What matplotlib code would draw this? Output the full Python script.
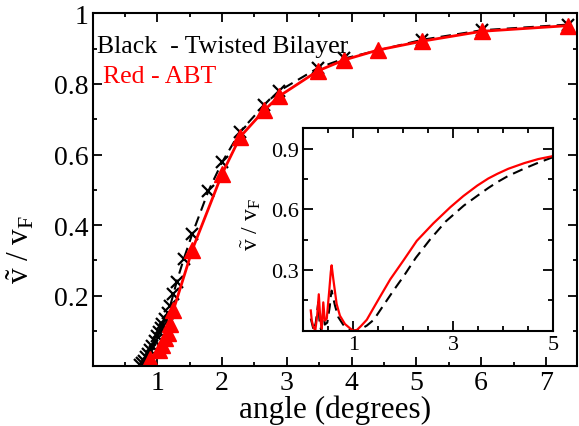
import numpy as np
import matplotlib
matplotlib.use("Agg")
import matplotlib.pyplot as plt
from matplotlib.ticker import MultipleLocator, FixedLocator

plt.rcParams['font.family'] = ['Liberation Serif', 'DejaVu Serif']
plt.rcParams['mathtext.fontset'] = 'custom'
plt.rcParams['mathtext.rm'] = 'Liberation Serif'
plt.rcParams['mathtext.it'] = 'Liberation Serif:italic'

# main panel: twisted bilayer (black) and ABT (red)
tb_angle = [0.73, 0.76, 0.79, 0.82, 0.85, 0.88, 0.92, 0.96, 0.99, 1.02, 1.05, 1.08,
            1.12, 1.16, 1.20, 1.25, 1.30, 1.41, 1.54, 1.79, 2.00, 2.28, 2.65, 2.88,
            3.48, 3.89, 5.09, 6.01, 7.34]
tb_v = [0.005, 0.01, 0.015, 0.025, 0.035, 0.045, 0.058, 0.072, 0.085, 0.097, 0.108, 0.12,
        0.135, 0.152, 0.172, 0.205, 0.24, 0.305, 0.375, 0.497, 0.578, 0.665, 0.74, 0.78,
        0.845, 0.872, 0.925, 0.952, 0.968]

abt_angle = [0.88, 1.02, 1.08, 1.12, 1.16, 1.20, 1.25, 1.54, 2.00, 2.28, 2.65, 2.88,
             3.48, 3.89, 4.41, 5.09, 6.01, 7.34]
abt_v = [0.02, 0.045, 0.06, 0.08, 0.095, 0.12, 0.16, 0.33, 0.545, 0.65, 0.725, 0.765,
         0.837, 0.868, 0.896, 0.921, 0.949, 0.965]

# inset curves
in_red_x = [0.15, 0.17, 0.20, 0.24, 0.28, 0.31, 0.34, 0.37, 0.40, 0.43, 0.47, 0.52,
            0.55, 0.567, 0.60, 0.667, 0.733, 0.833, 0.933, 1.0, 1.07, 1.15, 1.27, 1.40,
            1.55, 1.74, 2.0, 2.27, 2.6, 2.94, 3.2, 3.48, 3.7, 3.88, 4.1, 4.42, 4.7, 5.0]
in_red_y = [0.10, 0.05, 0.02, 0.0, 0.08, 0.18, 0.06, 0.01, 0.14, 0.05, 0.06, 0.20,
            0.29, 0.323, 0.256, 0.132, 0.074, 0.033, 0.012, 0.0, 0.003, 0.022, 0.054, 0.11,
            0.174, 0.254, 0.346, 0.444, 0.53, 0.61, 0.665, 0.717, 0.752, 0.775, 0.80,
            0.828, 0.848, 0.863]

in_blk_x = [0.15, 0.18, 0.21, 0.25, 0.28, 0.30, 0.33, 0.36, 0.40, 0.43, 0.48, 0.53,
            0.55, 0.567, 0.634, 0.70, 0.80, 0.933, 1.0, 1.07, 1.15, 1.27, 1.41, 1.6,
            1.8, 2.01, 2.25, 2.54, 2.85, 3.21, 3.5, 3.7, 3.88, 4.1, 4.41, 4.7, 5.0]
in_blk_y = [0.06, 0.03, 0.0, 0.04, 0.10, 0.14, 0.03, 0.0, 0.10, 0.03, 0.04, 0.12,
            0.17, 0.198, 0.124, 0.067, 0.029, 0.006, 0.0, 0.002, 0.008, 0.025, 0.054, 0.124,
            0.197, 0.27, 0.36, 0.452, 0.54, 0.618, 0.67, 0.705, 0.734, 0.765, 0.80,
            0.83, 0.858]

xticks = [1, 2, 3, 4, 5, 6, 7]
yticks = [0.2, 0.4, 0.6, 0.8, 1.0]
ytick_labels = ['0.2', '0.4', '0.6', '0.8', '1']
in_xticks = [1, 3, 5]
in_yticks = [0.3, 0.6, 0.9]

ylab = r'$\tilde{\mathrm{v}}$ / v$_\mathrm{F}$'

fig = plt.figure(figsize=(5.79, 4.27), dpi=100)
ax = fig.add_axes([0.1598, 0.1398, 0.8367, 0.8267])

ax.plot(tb_angle, tb_v, color='black', lw=1.5, dashes=(5, 3),
        marker='x', ms=9, mew=1.6)
ax.plot(abt_angle, abt_v, color='red', lw=2, marker='^', ms=11)

ax.set_xlim(0, 7.48)
ax.set_ylim(0, 1.0)
ax.xaxis.set_major_locator(FixedLocator(xticks))
ax.xaxis.set_minor_locator(MultipleLocator(0.5))
ax.yaxis.set_major_locator(FixedLocator(yticks))
ax.yaxis.set_minor_locator(MultipleLocator(0.1))
ax.set_yticklabels(ytick_labels)
ax.tick_params(which='both', direction='in', top=True, right=True, width=1.3)
ax.tick_params(which='major', length=6.5, labelsize=20, pad=3)
ax.tick_params(which='minor', length=3)
for s in ax.spines.values():
    s.set_linewidth(1.5)

ax.set_xlabel('angle (degrees)', fontsize=22.5, labelpad=-1)
ax.set_ylabel(ylab, fontsize=22.5)
ax.yaxis.set_label_coords(-0.115, 0.335)

ax.text(0.009, 0.89, 'Black  - Twisted Bilayer', transform=ax.transAxes,
        fontsize=18.5, color='black', va='baseline')
ax.text(0.021, 0.805, 'Red - ABT', transform=ax.transAxes,
        fontsize=18.5, color='red', va='baseline')

# inset
ins = fig.add_axes([0.5238, 0.2232, 0.4318, 0.474])
ins.plot(in_blk_x, in_blk_y, color='black', lw=1.5, dashes=(5, 3))
ins.plot(in_red_x, in_red_y, color='red', lw=1.6)
ins.set_xlim(0, 5)
ins.set_ylim(0, 1.0)
ins.xaxis.set_major_locator(FixedLocator(in_xticks))
ins.xaxis.set_minor_locator(MultipleLocator(0.5))
ins.yaxis.set_major_locator(FixedLocator(in_yticks))
ins.yaxis.set_minor_locator(MultipleLocator(0.15))
ins.tick_params(which='both', direction='in', top=True, right=True, width=1.3)
ins.tick_params(which='major', length=7, labelsize=16, pad=3)
ins.tick_params(which='minor', length=3.6)
for s in ins.spines.values():
    s.set_linewidth(1.5)
ins.set_ylabel(ylab, fontsize=17)
ins.yaxis.set_label_coords(-0.16, 0.527)

fig.savefig('out.png', dpi=100)
